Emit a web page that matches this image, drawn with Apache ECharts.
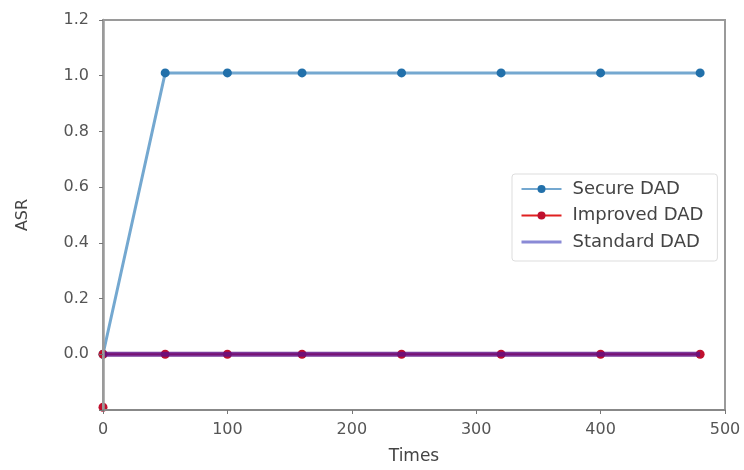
<!DOCTYPE html>
<html>
<head>
<meta charset="utf-8">
<script src="https://cdn.jsdelivr.net/npm/echarts@6/dist/echarts.min.js"></script>
<style>html,body{margin:0;padding:0;background:#fff}#c{width:744px;height:470px}</style>
</head>
<body>
<div id="c"></div>
<script>
// Data
const seriesNames = ['Secure DAD', 'Improved DAD', 'Standard DAD'];
const secureTimes = [0, 50, 100, 160, 240, 320, 400, 480];
const secureASR = [0.0, 1.01, 1.01, 1.01, 1.01, 1.01, 1.01, 1.01];
const improvedTimes = [0, 0, 50, 100, 160, 240, 320, 400, 480];
const improvedASR = [-0.19, 0.0, 0.0, 0.0, 0.0, 0.0, 0.0, 0.0, 0.0];
const standardTimes = [0, 50, 100, 160, 240, 320, 400, 480];
const standardASR = [0.0, 0.0, 0.0, 0.0, 0.0, 0.0, 0.0, 0.0];
const xTicks = [0, 100, 200, 300, 400, 500];
const yTicks = [0.0, 0.2, 0.4, 0.6, 0.8, 1.0, 1.2];

const pairs = (xs, ys) => xs.map((x, i) => [x, ys[i]]);
const font = 'DejaVu Sans';
const chart = echarts.init(document.getElementById('c'), null, {renderer: 'canvas'});
chart.setOption({
  animation: false,
  backgroundColor: '#fff',
  textStyle: {fontFamily: font},
  grid: {left: 103, right: 19, top: 20, bottom: 59, show: true, borderColor: '#9a9a9a', borderWidth: 2, backgroundColor: 'transparent', z: 6},
  xAxis: {
    type: 'value', min: xTicks[0], max: xTicks[xTicks.length - 1], interval: 100,
    name: 'Times', nameLocation: 'middle', nameGap: 38, z: 6,
    nameTextStyle: {fontSize: 17, color: '#444', fontFamily: font},
    axisLine: {show: true, onZero: false, lineStyle: {color: '#888', width: 2}},
    axisTick: {show: true, length: 4, lineStyle: {color: '#777'}},
    axisLabel: {fontSize: 16, color: '#555', margin: 12, fontFamily: font},
    splitLine: {show: false}
  },
  yAxis: {
    type: 'value', min: -0.2, max: yTicks[yTicks.length - 1], interval: 0.2,
    name: 'ASR', nameLocation: 'middle', nameGap: 72, nameRotate: 90, z: 6,
    nameTextStyle: {fontSize: 16, color: '#444', fontFamily: font},
    axisLine: {show: true, onZero: false, lineStyle: {color: '#9a9a9a', width: 2.5}},
    axisTick: {show: true, length: 4, lineStyle: {color: '#777'}},
    axisLabel: {fontSize: 16, color: '#555', margin: 14, fontFamily: font,
      formatter: v => (v < -0.1 ? '' : v.toFixed(1))},
    splitLine: {show: false}
  },
  legend: {
    orient: 'vertical', left: 512, top: 174,
    padding: [6, 14, 10, 8], itemGap: 8.5, itemWidth: 40, itemHeight: 10,
    backgroundColor: '#fff', borderColor: '#ddd', borderWidth: 1, borderRadius: 3,
    textStyle: {fontSize: 18, color: '#444', fontFamily: font, padding: [0, 0, 0, 6]},
    data: [
      {name: seriesNames[0]},
      {name: seriesNames[1]},
      {name: seriesNames[2], itemStyle: {color: '#8a8ad6', opacity: 0}, lineStyle: {color: '#8a8ad6', width: 3}}
    ]
  },
  series: [
    {
      name: seriesNames[0], type: 'line', data: pairs(secureTimes, secureASR),
      symbol: 'circle', symbolSize: 9, z: 2,
      itemStyle: {color: '#2270aa'},
      lineStyle: {color: '#74a8d0', width: 3}
    },
    {
      name: seriesNames[1], type: 'line', data: pairs(improvedTimes, improvedASR),
      symbol: 'circle', symbolSize: 9, z: 3,
      itemStyle: {color: '#c0102e'},
      lineStyle: {color: '#e02020', width: 2}
    },
    {
      name: seriesNames[2], type: 'line', data: pairs(standardTimes, standardASR),
      symbol: 'none', z: 4,
      itemStyle: {color: '#8a8ad6'},
      lineStyle: {color: 'rgba(95,15,135,0.82)', width: 5}
    }
  ]
});
</script>
</body>
</html>
